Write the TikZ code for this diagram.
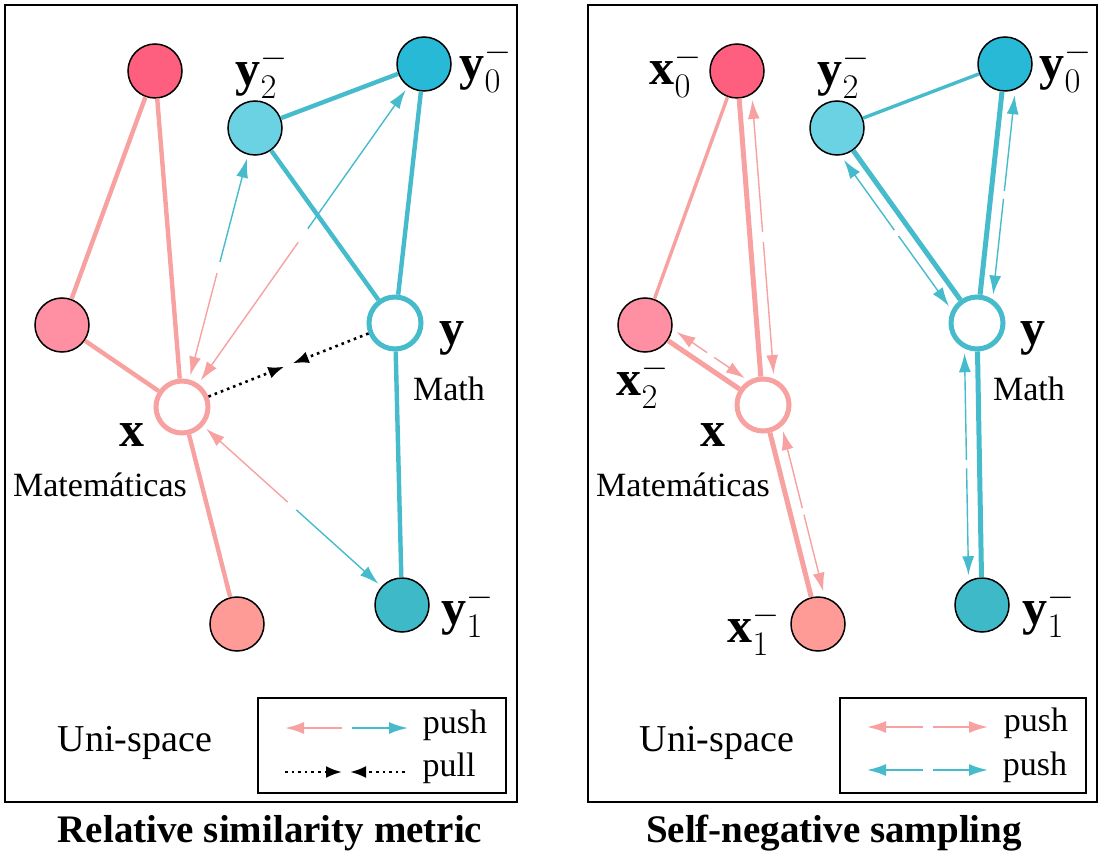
\documentclass[tikz,border=0pt]{standalone}
\usepackage{fontspec}
\setmainfont{Liberation Serif}
\usetikzlibrary{arrows.meta, positioning, calc}
\definecolor{negred}{HTML}{FF5F7E}
\definecolor{negpink}{HTML}{FF8FA3}
\definecolor{negsalmon}{HTML}{FF9B97}
\definecolor{xline}{HTML}{F7A1A1}
\definecolor{negcyan}{HTML}{27B9D6}
\definecolor{neglight}{HTML}{6AD2E2}
\definecolor{negteal}{HTML}{3EB9C8}
\definecolor{yline}{HTML}{45BBCC}

\begin{document}
\begin{tikzpicture}[
        x=0.5pt, y=-0.5pt,
        negnode/.style={
            circle,
            draw=black,
            line width=0.75pt,
            minimum size=27pt,
            inner sep=0pt
        },
        anchornode/.style={
            circle,
            fill=white,
            line width=2.5pt,
            minimum size=26pt,
            inner sep=0pt
        },
        xedge/.style={xline, line width=2.2pt},
        yedge/.style={yline, line width=2.2pt},
        pushtip/.style={{Latex[length=9.5pt, width=6pt]}-, line width=0.7pt},
        pulltip/.style={-{Latex[length=8pt, width=6pt]}, dotted, line width=1.3pt, black},
        vec/.style={font=\fontsize{25}{28}\selectfont},
        word/.style={font=\fontsize{17}{20}\selectfont},
        title/.style={font=\fontsize{19.5}{23}\selectfont\bfseries}
    ]
        \useasboundingbox (0,0) rectangle (1113,861);

        % left panel: relative similarity metric
        \draw[line width=0.7pt] (5,5) rectangle (517,802);
        \node[negnode, fill=negred] (lx0) at (155,71) {};
        \node[negnode, fill=negpink] (lx2) at (62,325) {};
        \node[negnode, fill=negsalmon] (lx1) at (237,624) {};
        \node[anchornode, draw=xline] (lx) at (182,407) {};
        \node[negnode, fill=negcyan] (ly0) at (424,64) {};
        \node[negnode, fill=neglight] (ly2) at (255,128) {};
        \node[negnode, fill=negteal] (ly1) at (402,605) {};
        \node[anchornode, draw=yline] (ly) at (395,323) {};

        \draw[xedge] (lx0) -- (lx2);
        \draw[xedge] (lx0) -- (lx);
        \draw[xedge] (lx2) -- (lx);
        \draw[xedge] (lx) -- (lx1);
        \draw[yedge] (ly2) -- (ly0);
        \draw[yedge] (ly2) -- (ly);
        \draw[yedge] (ly0) -- (ly);
        \draw[yedge] (ly) -- (ly1);

        \draw[pushtip, xline, shorten <=2pt] (lx) -- ($(lx)!0.48!(ly2)$);
        \draw[pushtip, yline, shorten <=2pt] (ly2) -- ($(ly2)!0.48!(lx)$);
        \draw[pushtip, xline, shorten <=2pt] (lx) -- ($(lx)!0.48!(ly0)$);
        \draw[pushtip, yline, shorten <=2pt] (ly0) -- ($(ly0)!0.48!(lx)$);
        \draw[pushtip, xline, shorten <=2pt] (lx) -- ($(lx)!0.48!(ly1)$);
        \draw[pushtip, yline, shorten <=2pt] (ly1) -- ($(ly1)!0.48!(lx)$);
        \draw[pulltip] (lx) -- ($(lx)!0.48!(ly)$);
        \draw[pulltip] (ly) -- ($(ly)!0.48!(lx)$);

        \node[vec] (ly2lab) at (262,73) {$\mathbf{y}_2^-$};
        \node[vec] (ly0lab) at (486,67) {$\mathbf{y}_0^-$};
        \node[vec] (ly1lab) at (468,612) {$\mathbf{y}_1^-$};
        \node[vec] (lylab) at (452,338) {$\mathbf{y}$};
        \node[vec] (lxlab) at (132,435) {$\mathbf{x}$};
        \node[word] (lmath) at (449,389) {Math};
        \node[word] (lmate) at (100,485) {Matemáticas};
        \node[word, font=\fontsize{19}{22}\selectfont] (lspace) at (135,743) {Uni-space};

        % left legend
        \draw[line width=0.7pt] (258,698) rectangle (506,793);
        \coordinate (lpa) at (285,728);
        \coordinate (lpb) at (342,728);
        \coordinate (lpc) at (352,728);
        \coordinate (lpd) at (408,728);
        \coordinate (lqa) at (285,772);
        \coordinate (lqb) at (342,772);
        \coordinate (lqc) at (350,772);
        \coordinate (lqd) at (405,772);
        \draw[pushtip, xline, line width=1pt] (lpa) -- (lpb);
        \draw[pushtip, yline, line width=1pt] (lpd) -- (lpc);
        \draw[pulltip] (lqa) -- (lqb);
        \draw[pulltip] (lqd) -- (lqc);
        \node[word] (lpush) at (455,725) {push};
        \node[word] (lpull) at (449,768) {pull};

        \node[title] (ltitle) at (270,833) {Relative similarity metric};

        % right panel: self-negative sampling
        \draw[line width=0.7pt] (588,5) rectangle (1097,802);
        \node[negnode, fill=negred] (rx0) at (737,71) {};
        \node[negnode, fill=negpink] (rx2) at (645,325) {};
        \node[negnode, fill=negsalmon] (rx1) at (818,624) {};
        \node[anchornode, draw=xline] (rx) at (763,405) {};
        \node[negnode, fill=negcyan] (ry0) at (1005,64) {};
        \node[negnode, fill=neglight] (ry2) at (837,128) {};
        \node[negnode, fill=negteal] (ry1) at (982,605) {};
        \node[anchornode, draw=yline] (ry) at (977,323) {};

        \draw[xedge, line width=1.7pt] (rx0) -- (rx2);
        \draw[xedge, line width=2.5pt] (rx0) -- (rx);
        \draw[xedge, line width=2.5pt] (rx2) -- (rx);
        \draw[xedge, line width=2.5pt] (rx) -- (rx1);
        \draw[yedge, line width=1.7pt] (ry2) -- (ry0);
        \draw[yedge, line width=2.5pt] (ry2) -- (ry);
        \draw[yedge, line width=2.5pt] (ry0) -- (ry);
        \draw[yedge, line width=2.5pt] (ry) -- (ry1);

        \coordinate (rx0s) at ($(rx0)!6.5pt!90:(rx)$);
        \coordinate (rx0e) at ($(rx)!6.5pt!-90:(rx0)$);
        \draw[pushtip, xline, shorten <=15pt] (rx0s) -- ($(rx0s)!0.485!(rx0e)$);
        \draw[pushtip, xline, shorten <=15pt] (rx0e) -- ($(rx0e)!0.485!(rx0s)$);
        \coordinate (rx2s) at ($(rx2)!6pt!90:(rx)$);
        \coordinate (rx2e) at ($(rx)!6pt!-90:(rx2)$);
        \draw[pushtip, xline, shorten <=15pt] (rx2s) -- ($(rx2s)!0.47!(rx2e)$);
        \draw[pushtip, xline, shorten <=15pt] (rx2e) -- ($(rx2e)!0.47!(rx2s)$);
        \coordinate (rx1s) at ($(rx)!6.5pt!90:(rx1)$);
        \coordinate (rx1e) at ($(rx1)!6.5pt!-90:(rx)$);
        \draw[pushtip, xline, shorten <=15pt] (rx1s) -- ($(rx1s)!0.485!(rx1e)$);
        \draw[pushtip, xline, shorten <=15pt] (rx1e) -- ($(rx1e)!0.485!(rx1s)$);
        \coordinate (ry2s) at ($(ry2)!6.5pt!-90:(ry)$);
        \coordinate (ry2e) at ($(ry)!6.5pt!90:(ry2)$);
        \draw[pushtip, yline, shorten <=15pt] (ry2s) -- ($(ry2s)!0.485!(ry2e)$);
        \draw[pushtip, yline, shorten <=15pt] (ry2e) -- ($(ry2e)!0.485!(ry2s)$);
        \coordinate (ry0s) at ($(ry0)!6.5pt!90:(ry)$);
        \coordinate (ry0e) at ($(ry)!6.5pt!-90:(ry0)$);
        \draw[pushtip, yline, shorten <=15pt] (ry0s) -- ($(ry0s)!0.485!(ry0e)$);
        \draw[pushtip, yline, shorten <=15pt] (ry0e) -- ($(ry0e)!0.485!(ry0s)$);
        \coordinate (ry1s) at ($(ry)!6.5pt!-90:(ry1)$);
        \coordinate (ry1e) at ($(ry1)!6.5pt!90:(ry)$);
        \draw[pushtip, yline, shorten <=15pt] (ry1s) -- ($(ry1s)!0.485!(ry1e)$);
        \draw[pushtip, yline, shorten <=15pt] (ry1e) -- ($(ry1e)!0.485!(ry1s)$);

        \node[vec] (rx0lab) at (676,72) {$\mathbf{x}_0^-$};
        \node[vec] (rx2lab) at (643,383) {$\mathbf{x}_2^-$};
        \node[vec] (rx1lab) at (754,630) {$\mathbf{x}_1^-$};
        \node[vec] (rxlab) at (713,435) {$\mathbf{x}$};
        \node[vec] (ry2lab) at (844,73) {$\mathbf{y}_2^-$};
        \node[vec] (ry0lab) at (1066,67) {$\mathbf{y}_0^-$};
        \node[vec] (ry1lab) at (1049,612) {$\mathbf{y}_1^-$};
        \node[vec] (rylab) at (1033,338) {$\mathbf{y}$};
        \node[word] (rmath) at (1029,389) {Math};
        \node[word] (rmate) at (683,485) {Matemáticas};
        \node[word, font=\fontsize{19}{22}\selectfont] (rspace) at (717,743) {Uni-space};

        % right legend
        \draw[line width=0.7pt] (840,698) rectangle (1086,793);
        \coordinate (rpa) at (867,727);
        \coordinate (rpb) at (923,727);
        \coordinate (rpc) at (933,727);
        \coordinate (rpd) at (988,727);
        \coordinate (rqa) at (867,770);
        \coordinate (rqb) at (923,770);
        \coordinate (rqc) at (933,770);
        \coordinate (rqd) at (988,770);
        \draw[pushtip, xline, line width=1pt] (rpa) -- (rpb);
        \draw[pushtip, xline, line width=1pt] (rpd) -- (rpc);
        \draw[pushtip, yline, line width=1pt] (rqa) -- (rqb);
        \draw[pushtip, yline, line width=1pt] (rqd) -- (rqc);
        \node[word] (rpush) at (1036,723) {push};
        \node[word] (rpushb) at (1035,767) {push};

        \node[title] (rtitle) at (834,833) {Self-negative sampling};
    \end{tikzpicture}
\end{document}
